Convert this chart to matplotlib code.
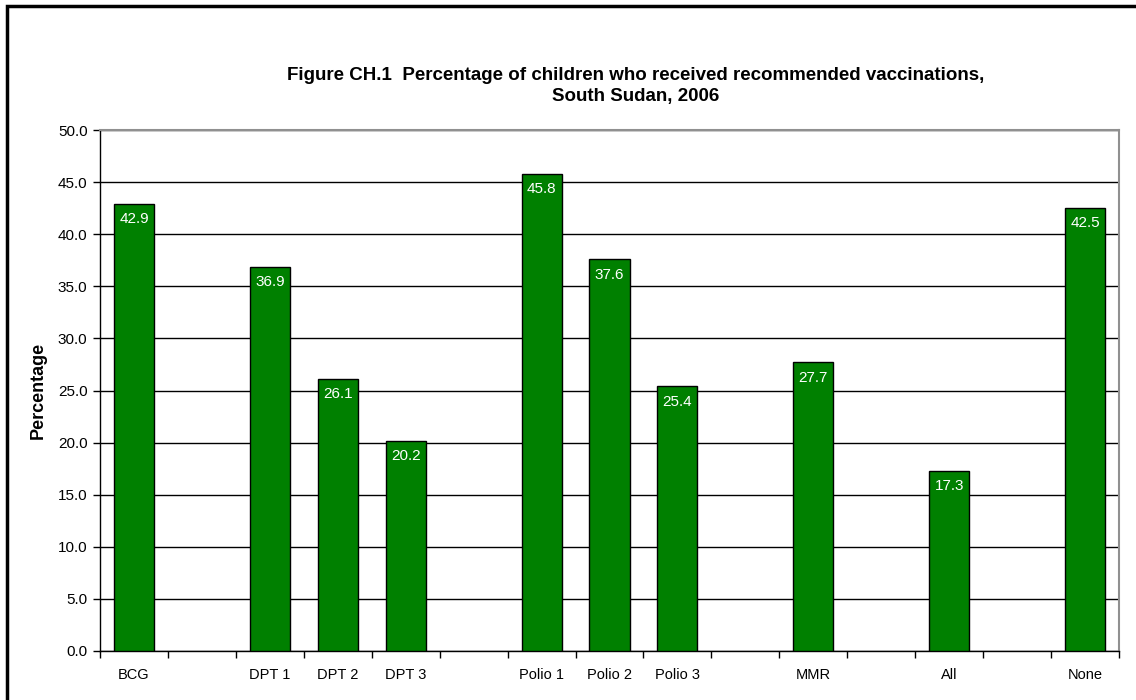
import numpy as np
import matplotlib
matplotlib.use("Agg")
import matplotlib.pyplot as plt
from matplotlib.patches import Rectangle
from matplotlib.ticker import FormatStrFormatter

plt.rcParams['font.family'] = ['Liberation Sans', 'DejaVu Sans']

# Data (empty labels are the gap slots in the original chart)
categories = ['BCG', '', 'DPT 1', 'DPT 2', 'DPT 3', '', 'Polio 1', 'Polio 2',
              'Polio 3', '', 'MMR', '', 'All', '', 'None']
values = [42.9, None, 36.9, 26.1, 20.2, None, 45.8, 37.6,
          25.4, None, 27.7, None, 17.3, None, 42.5]

title = ("Figure CH.1  Percentage of children who received recommended vaccinations,\n"
         "South Sudan, 2006")

fig = plt.figure(figsize=(11.36, 7.0), dpi=100)
ax = fig.add_axes([100 / 1136, 49 / 700, 1019 / 1136, 521 / 700])

# outer frame
fig.patches.append(Rectangle((7 / 1136, -0.05), 1.1, 0.05 + 694 / 700,
                             transform=fig.transFigure, fill=False,
                             edgecolor='black', linewidth=2.5))

xs = [i for i, v in enumerate(values) if v is not None]
ys = [v for v in values if v is not None]
bars = ax.bar(xs, ys, width=0.59, color='#008000', edgecolor='black',
              linewidth=1, zorder=3)

for x, y in zip(xs, ys):
    ax.text(x, y - 0.8, f"{y:.1f}", ha='center', va='top', color='white',
            fontsize=11, zorder=4)

ax.set_xlim(-0.5, len(categories) - 0.5)
ax.set_ylim(0, 50)
ax.set_yticks(np.arange(0, 50.1, 5))
ax.yaxis.set_major_formatter(FormatStrFormatter('%.1f'))
ax.yaxis.grid(True, color='black', linewidth=1, zorder=0)
ax.set_axisbelow(True)

ax.set_xticks(range(len(categories)))
ax.set_xticklabels(categories)
ax.set_xticks(np.arange(-0.5, len(categories), 1), minor=True)
ax.tick_params(axis='x', which='major', length=0, pad=12, labelsize=10.5)
ax.tick_params(axis='x', which='minor', length=5, width=1, direction='out')
ax.tick_params(axis='y', length=5, width=1, direction='out', labelsize=11, pad=4)

for side in ['top', 'right']:
    ax.spines[side].set_color('#909090')
    ax.spines[side].set_linewidth(1.5)
for side in ['left', 'bottom']:
    ax.spines[side].set_color('black')
    ax.spines[side].set_linewidth(1)

ax.set_ylabel('Percentage', fontsize=13, fontweight='bold', labelpad=8)

fig.text(636 / 1136, 1 - 86 / 700, title, ha='center', va='center',
         fontsize=13.5, fontweight='bold', linespacing=1.35)

fig.savefig('out.png', dpi=100)
